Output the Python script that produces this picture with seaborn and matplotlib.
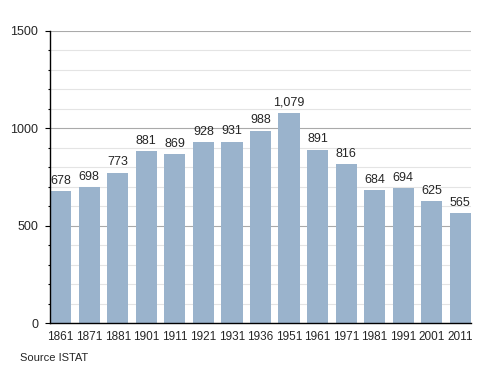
import pandas as pd
import seaborn as sns
import matplotlib.pyplot as plt
from matplotlib.ticker import MultipleLocator

# Dati popolazione (fonte ISTAT)
anni = ['1861', '1871', '1881', '1901', '1911', '1921', '1931', '1936',
        '1951', '1961', '1971', '1981', '1991', '2001', '2011']
abitanti = [678, 698, 773, 881, 869, 928, 931, 988, 1079, 891, 816, 684, 694, 625, 565]

df = pd.DataFrame({'anno': anni, 'abitanti': abitanti})

sns.set_style('white')
plt.rcParams['font.family'] = ['Liberation Sans', 'DejaVu Sans']

fig = plt.figure(figsize=(5, 3.73), dpi=100)
ax = fig.add_axes([0.1, 0.134, 0.842, 0.783])

sns.barplot(data=df, x='anno', y='abitanti', color='#9ab3cc', saturation=1,
            width=0.74, ax=ax)
for p in ax.patches:
    p.set_zorder(3)
    p.set_edgecolor('none')

ax.set_ylim(0, 1500)
ax.set_xlim(-0.375, len(anni) - 0.625)
ax.yaxis.set_major_locator(MultipleLocator(500))
ax.yaxis.set_minor_locator(MultipleLocator(100))
ax.grid(axis='y', which='minor', color='#e4e4e4', linewidth=0.8)
ax.grid(axis='y', which='major', color='#aaaaaa', linewidth=0.8)
ax.set_axisbelow(True)

for s in ['top', 'right']:
    ax.spines[s].set_visible(False)
for s in ['left', 'bottom']:
    ax.spines[s].set_color('black')
    ax.spines[s].set_linewidth(1)
    ax.spines[s].set_zorder(4)

ax.tick_params(axis='y', which='both', left=True, direction='out', color='black',
               labelsize=9, width=0.8)
ax.tick_params(axis='y', which='major', length=3.5, pad=5)
ax.tick_params(axis='y', which='minor', length=1.5)
ax.tick_params(axis='x', bottom=False, labelsize=8.5, pad=2)

for i, v in enumerate(abitanti):
    ax.text(i, v + 22, f'{v:,}', ha='center', va='bottom', fontsize=9, zorder=5)

ax.set_xlabel('')
ax.set_ylabel('')

fig.text(0.04, 0.028, 'Source ISTAT', fontsize=8, ha='left', va='bottom')

plt.savefig('out.png', dpi=100)
